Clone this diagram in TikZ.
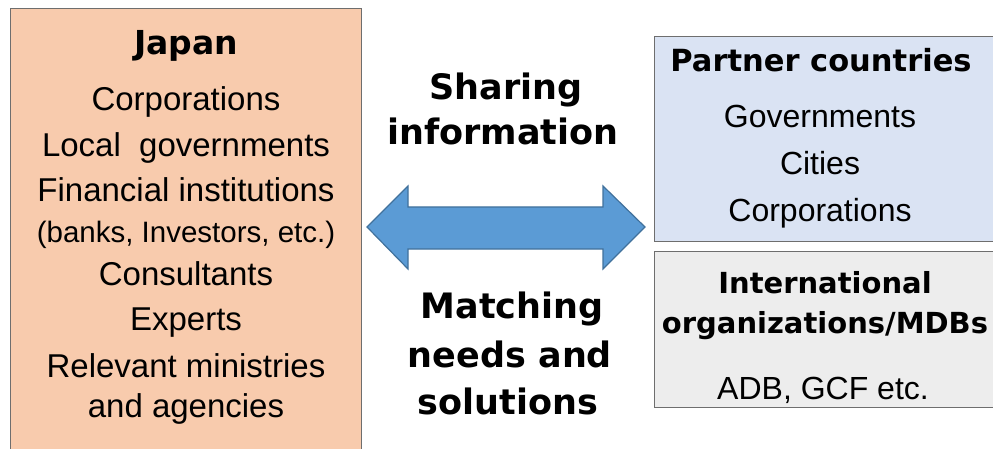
\documentclass[tikz,border=0pt]{standalone}
\usepackage{fontspec}
\setmainfont{Liberation Sans}
\newfontfamily\dv{DejaVu Sans}
\definecolor{jpfill}{HTML}{F8CBAD}
\definecolor{ptfill}{HTML}{DAE3F3}
\definecolor{iofill}{HTML}{EDEDED}
\definecolor{boxline}{HTML}{6E6E6E}
\definecolor{arrfill}{HTML}{5B9BD5}
\definecolor{arrline}{HTML}{41719C}
\tikzset{
  box/.style={draw=boxline, line width=1.3pt, anchor=north west, inner sep=0pt},
  reg/.style={anchor=base, inner sep=0pt, font=\fontsize{33}{33}\selectfont},
  regs/.style={anchor=base, inner sep=0pt, font=\fontsize{29.5}{30}\selectfont},
  regr/.style={anchor=base, inner sep=0pt, font=\fontsize{32}{32}\selectfont},
  hd/.style={anchor=base, inner sep=0pt, font=\dv\bfseries\fontsize{29}{29}\selectfont},
  mid/.style={anchor=base, inner sep=0pt, font=\dv\bfseries\fontsize{35}{35}\selectfont},
  blockarrow/.style={fill=arrfill, draw=arrline, line width=1.2pt, line join=miter}
}
\begin{document}
\begin{tikzpicture}[x=1pt,y=-1pt]
\useasboundingbox (0,0) rectangle (993,449);
% boxes
\node (japanbox) [box, fill=jpfill, minimum width=351pt, minimum height=460pt] at (10,8) {};
\node (partnerbox) [box, fill=ptfill, minimum width=360pt, minimum height=205pt] at (654,36) {};
\node (intlbox) [box, fill=iofill, minimum width=360pt, minimum height=156pt] at (654,251) {};
% left texts
\node (jp)  [hd, font=\dv\bfseries\fontsize{33}{33}\selectfont] at (186,55) {Japan};
\node (l1) [reg] at (186,111) {Corporations};
\node (l2) [reg] at (186,157) {Local\ \ governments};
\node (l3) [reg] at (186,202) {Financial institutions};
\node (l4) [regs] at (186,242) {(banks, Investors, etc.)};
\node (l5) [reg] at (186,285) {Consultants};
\node (l6) [reg] at (186,330) {Experts};
\node (l7) [reg] at (186,377) {Relevant ministries};
\node (l8) [reg] at (186,417) {and agencies};
% middle texts
\node (m1) [mid] at (506,100) {Sharing};
\node (m2) [mid] at (503,145) {information};
\node (m3) [mid] at (512,318) {Matching};
\node (m4) [mid] at (510,367) {needs and};
\node (m5) [mid] at (508,414) {solutions};
% right texts
\node (pc) [hd, font=\dv\bfseries\fontsize{30.5}{30.5}\selectfont] at (821,72) {Partner countries};
\node (r1) [regr] at (820,128) {Governments};
\node (r2) [regr] at (820,175) {Cities};
\node (r3) [regr] at (820,222) {Corporations};
\node (io1) [hd] at (825,293) {International};
\node (io2) [hd] at (825,333) {organizations/MDBs};
\node (io3) [regr] at (823,399) {ADB, GCF etc.};
% double block arrow
\coordinate (ltip) at (367,227);
\coordinate (rtip) at (645,227);
\draw[blockarrow] (ltip) -- (408,186) -- (408,207) -- (603,207) -- (603,186) -- (rtip)
  -- (603,269) -- (603,249) -- (408,249) -- (408,269) -- cycle;
\end{tikzpicture}
\end{document}
